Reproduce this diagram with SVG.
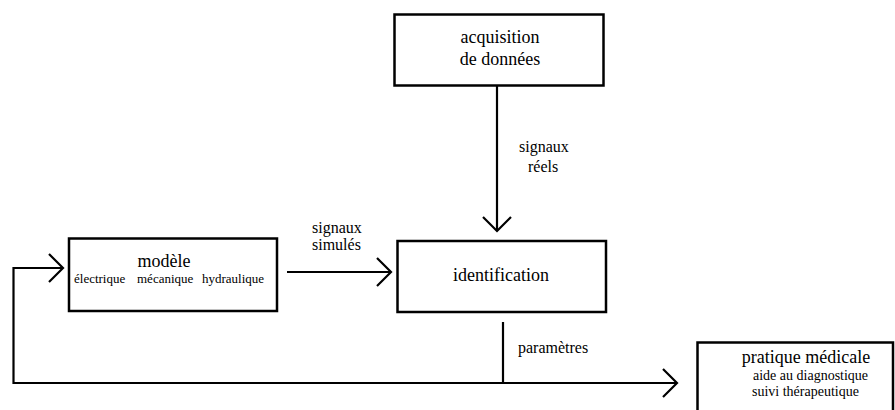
<svg xmlns="http://www.w3.org/2000/svg" width="895" height="410" viewBox="0 0 895 410">
<style>
.box{fill:#fff;stroke:#000;stroke-width:2.5}
.ln{fill:none;stroke:#000;stroke-width:2.2}
.big{font-size:18px}
.lbl{font-size:16px}
.sm{font-size:13px}
.sm2{font-size:14px}
</style>
<defs>
<marker id="ah" markerUnits="userSpaceOnUse" markerWidth="20" markerHeight="32" viewBox="-18 -16 20 32" refX="0" refY="0" orient="auto" overflow="visible">
<path d="M-14,-14 L0,0 L-14,14" fill="none" stroke="#000" stroke-width="2.2"/>
</marker>
</defs>
<rect width="895" height="410" fill="#fff"/>
<g font-family="Liberation Serif, Times New Roman, DejaVu Serif, serif" fill="#000">
<g id="connectors">
<path class="ln" d="M497,86 V231" marker-end="url(#ah)"/>
<path class="ln" d="M287,272 H391" marker-end="url(#ah)"/>
<path class="ln" d="M503,322 V383"/>
<path class="ln" d="M503,383 H677" marker-end="url(#ah)"/>
<path class="ln" d="M503,383 H13.5 V268 H63" marker-end="url(#ah)"/>
<text class="lbl" x="519" y="152">signaux</text>
<text class="lbl" x="528" y="172">réels</text>
<text class="lbl" x="312" y="233">signaux</text>
<text class="lbl" x="312" y="250">simulés</text>
<text class="lbl" x="518" y="353">paramètres</text>
</g>
<g id="acquisition">
<rect class="box" x="394.5" y="14.5" width="209" height="71"/>
<text class="big" x="500" y="43" text-anchor="middle">acquisition</text>
<text class="big" x="500" y="65" text-anchor="middle">de données</text>
</g>
<g id="modele">
<rect class="box" x="69" y="238.5" width="208" height="72.5"/>
<text class="big" x="164" y="267" text-anchor="middle">modèle</text>
<text class="sm" y="283"><tspan x="74">électrique</tspan><tspan x="137">mécanique</tspan><tspan x="202">hydraulique</tspan></text>
</g>
<g id="identification">
<rect class="box" x="397.5" y="241" width="208.5" height="71"/>
<text class="big" x="501" y="281" text-anchor="middle">identification</text>
</g>
<g id="pratique">
<rect class="box" x="697.5" y="342.5" width="195.5" height="80"/>
<text class="big" x="806" y="363" text-anchor="middle">pratique médicale</text>
<text class="sm2" x="753" y="380">aide au diagnostique</text>
<text class="sm2" x="752" y="396">suivi thérapeutique</text>
</g>
</g>
</svg>
